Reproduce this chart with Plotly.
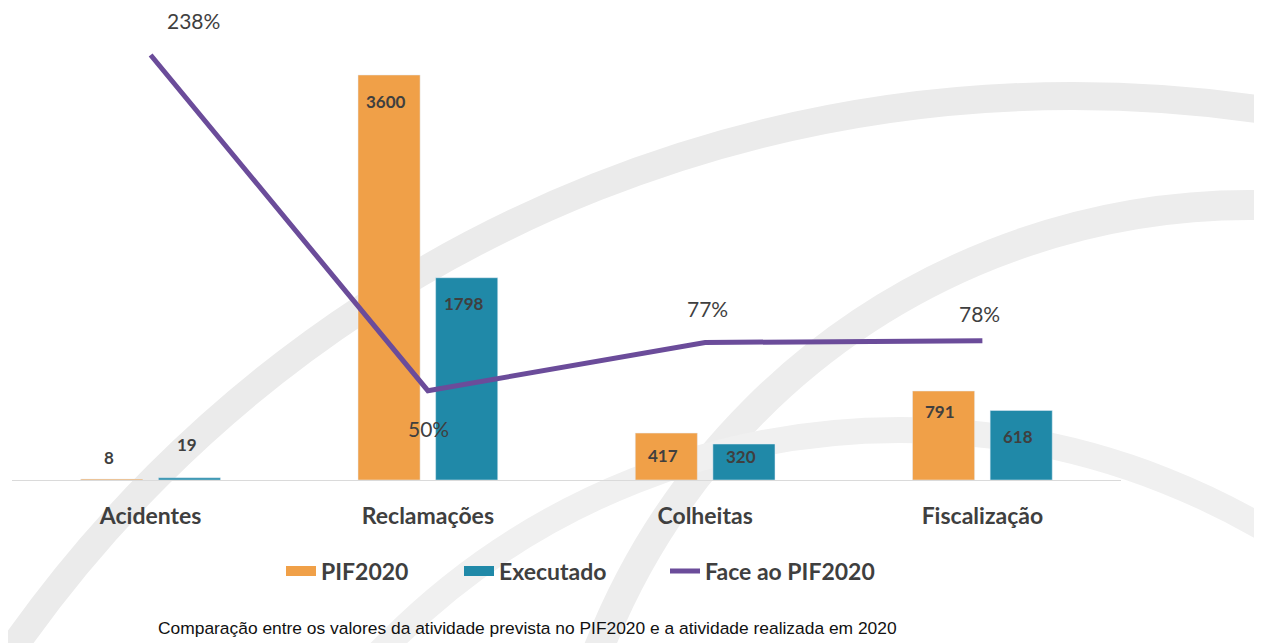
import plotly.graph_objects as go

categories = ["Acidentes", "Reclamações", "Colheitas", "Fiscalização"]
pif2020 = [8, 3600, 417, 791]
executado = [19, 1798, 320, 618]
face_pct = [238, 50, 77, 78]
pct_labels = ["238%", "50%", "77%", "78%"]

ORANGE = "#F0A048"
TEAL = "#2089A8"
PURPLE = "#6B4C9A"
LABEL = "#3F3F3F"
FONT = "Lato, 'Open Sans', sans-serif"

W, H = 1254, 635          # page body adds an 8px margin
PL, PR, PT, PB = 12, 1121, 40, 480   # plot area in reference pixels


def px(rx):
    return (rx - PL) / (PR - PL)


def py(ry):
    return (PB - ry) / (PB - PT)


fig = go.Figure()
fig.add_bar(x=categories, y=pif2020, name="PIF2020", marker_color=ORANGE,
            showlegend=False)
fig.add_bar(x=categories, y=executado, name="Executado", marker_color=TEAL,
            showlegend=False)
fig.add_scatter(x=categories, y=face_pct, name="Face ao PIF2020", yaxis="y2",
                mode="lines", line=dict(color=PURPLE, width=5), showlegend=False)

# legend entries (wide swatches like the reference)
fig.add_scatter(x=[None], y=[None], mode="lines", name="PIF2020",
                line=dict(color=ORANGE, width=13), legend="legend")
fig.add_scatter(x=[None], y=[None], mode="lines", name="Executado",
                line=dict(color=TEAL, width=13), legend="legend2")
fig.add_scatter(x=[None], y=[None], mode="lines", name="Face ao PIF2020",
                line=dict(color=PURPLE, width=5), legend="legend3")

# bar value labels (pixel offsets from bar tops)
pif_shift = [22, -27, -22, -20]
exe_shift = [33, -26, -12, -26]
for i, c in enumerate(categories):
    for vals, sh, ys in ((pif2020, -39, pif_shift), (executado, 39, exe_shift)):
        v = vals[i]
        fig.add_annotation(x=c, y=v, xref="x", yref="y", text=f"<b>{v}</b>",
                           showarrow=False, xshift=sh - 3, yshift=ys[i],
                           font=dict(family=FONT, size=17, color=LABEL))

# line labels
shifts = [(43, 35), (1, -38), (2, 34), (-3, 27)]
for c, v, t, (xs, ys) in zip(categories, face_pct, pct_labels, shifts):
    fig.add_annotation(x=c, y=v, xref="x", yref="y2", text=t, showarrow=False,
                       xshift=xs, yshift=ys,
                       font=dict(family=FONT, size=21, color=LABEL))

# caption
fig.add_annotation(x=px(527), y=py(628), xref="paper", yref="paper",
                   text="Comparação entre os valores da atividade prevista no PIF2020 e a atividade realizada em 2020",
                   showarrow=False, xanchor="center", yanchor="middle",
                   font=dict(family="'Liberation Sans Narrow', 'Liberation Sans', Arial",
                             size=17.4, color="#111111"))

# faint decorative background arcs (scanned page watermark)
arcs = [((1073, 1390), 1294, 28, "#EBEBEB"),
        ((1250, 905), 700, 30, "#EDEDED"),
        ((900, 1150), 720, 26, "#F0F0F0")]
for (cx, cy), r, w, col in arcs:
    fig.add_shape(type="circle", xref="paper", yref="paper",
                  x0=px(cx - r), x1=px(cx + r), y0=py(cy + r), y1=py(cy - r),
                  line=dict(color=col, width=w), layer="below")

leg_common = dict(orientation="h", xref="container", yref="container",
                  yanchor="middle", bgcolor="rgba(0,0,0,0)",
                  font=dict(family=FONT, size=23, color=LABEL, weight="bold"))
ly = 1 - (571 - 8) / H

fig.update_layout(
    width=W, height=H,
    margin=dict(l=PL - 8, r=W - (PR - 8), t=PT - 8, b=H - (PB - 8)),
    paper_bgcolor="white", plot_bgcolor="rgba(0,0,0,0)",
    barmode="group", bargap=0.44, bargroupgap=0.2,
    showlegend=True,
    legend=dict(x=(281 - 8) / W, y=ly, **leg_common),
    legend2=dict(x=(459 - 8) / W, y=ly, **leg_common),
    legend3=dict(x=(665 - 8) / W, y=ly, **leg_common),
    xaxis=dict(showgrid=False, showline=True, linecolor="#DADADA", linewidth=1,
               ticks="outside", ticklen=15, tickcolor="rgba(0,0,0,0)",
               tickfont=dict(family=FONT, size=23, color=LABEL, weight="bold"),
               zeroline=False),
    yaxis=dict(range=[0, 3911], visible=False, showgrid=False),
    yaxis2=dict(range=[0, 246.4], overlaying="y", side="right", visible=False,
                showgrid=False),
)

fig.write_html("out.html")
